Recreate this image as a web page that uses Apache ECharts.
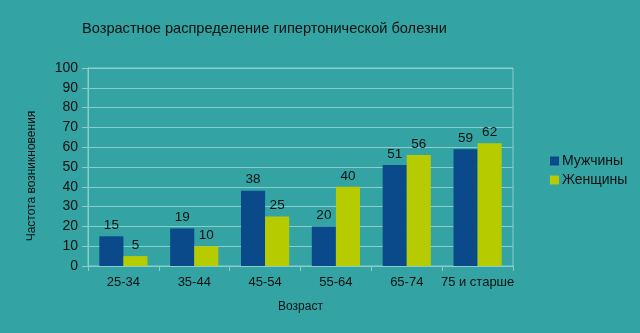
<!DOCTYPE html>
<html><head><meta charset="utf-8">
<script src="https://cdn.jsdelivr.net/npm/echarts@6/dist/echarts.min.js"></script>
<style>html,body{margin:0;padding:0;background:#33a3a3;}#c{width:640px;height:333px;}</style>
</head><body><div id="c"></div>
<script>
const categories = ['25-34','35-44','45-54','55-64','65-74','75 и старше'];
const men = [15,19,38,20,51,59];
const women = [5,10,25,40,56,62];
const seriesNames = ['Мужчины','Женщины'];
const chart = echarts.init(document.getElementById('c'));
const font = 'Liberation Sans, Arial, sans-serif';
const label = {show:true, position:'top', color:'#111', fontSize:13.5, fontFamily:font, distance:4};
chart.setOption({
  backgroundColor:'#33a3a3',
  animation:false,
  title:{text:'Возрастное распределение гипертонической болезни', left:77, top:16,
    textStyle:{color:'#111', fontSize:14.6, fontWeight:'normal', fontFamily:font}},
  graphic:[{type:'text', x:32, y:176, rotation:Math.PI/2,
    style:{text:'Частота возникновения', fill:'#111', fontSize:12, fontFamily:font, textAlign:'center', textVerticalAlign:'middle'}}],
  grid:{left:88, right:127, top:68, bottom:67, show:true, borderColor:'#8ccccc', borderWidth:1},
  legend:{orient:'vertical', left:545, top:149, itemWidth:9, itemHeight:9, itemGap:5,
    icon:'rect', textStyle:{color:'#111', fontSize:14, fontFamily:font, padding:[0,0,0,-2]}, data:seriesNames},
  xAxis:{type:'category', data:categories, name:'Возраст', nameLocation:'middle', nameGap:35,
    nameTextStyle:{color:'#111', fontSize:12, fontFamily:font},
    axisLine:{lineStyle:{color:'#8ccccc'}}, axisTick:{show:true, length:5, lineStyle:{color:'#8ccccc'}},
    axisLabel:{color:'#111', fontSize:13, fontFamily:font, margin:10, interval:0}},
  yAxis:{type:'value', min:0, max:100, interval:10,
    axisLine:{show:true, lineStyle:{color:'#8ccccc'}}, axisTick:{show:true, length:6, lineStyle:{color:'#8ccccc'}},
    splitLine:{lineStyle:{color:'#8ccccc'}},
    axisLabel:{color:'#111', fontSize:14, fontFamily:font, margin:10}},
  series:[
    {name:seriesNames[0], type:'bar', data:men, itemStyle:{color:'#0b4a8a'}, barGap:'0%', barCategoryGap:'32%', label:label},
    {name:seriesNames[1], type:'bar', data:women, itemStyle:{color:'#b7cc00'}, label:label}
  ]
});
</script></body></html>
